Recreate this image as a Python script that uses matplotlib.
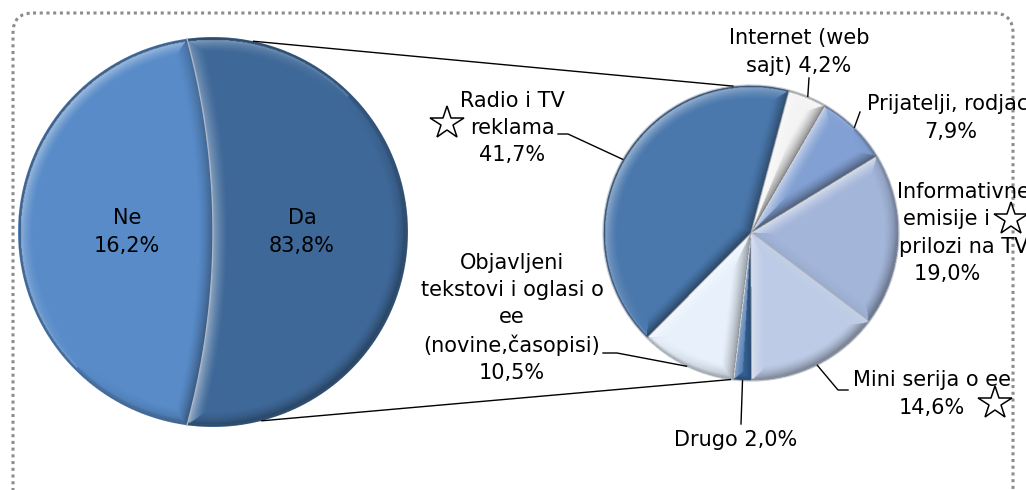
#!/usr/bin/env python3

import numpy as np
import matplotlib.pyplot as plt
from matplotlib.patches import Polygon, Circle, FancyBboxPatch

W, H = 1026, 490
DPI = 100

main_labels = ["Ne", "Da"]
main_values = [16.2, 83.8]
main_colors = ["#588bc8", "#3e6898"]

# breakdown of "Da", clockwise from the top
sub_labels = ["Internet (web\nsajt)", "Prijatelji, rodjaci",
              "Informativne\nemisije i\nprilozi na TV", "Mini serija o ee", "Drugo",
              "Objavljeni\ntekstovi i oglasi o\nee\n(novine,časopisi)", "Radio i TV\nreklama"]
sub_values = [4.2, 7.9, 19.0, 14.6, 2.0, 10.5, 41.7]
sub_colors = ["#f3f3f3", "#82a0d3", "#a3b5d9", "#bdcbe6", "#3b6ba6", "#e7f0fb", "#4a78ad"]
value_sep = [" ", "\n", "\n", "\n", " ", "\n", "\n"]

# layout in pixels (y down)
CX1, CY1, R1 = 213, 232, 195
CX2, CY2, R2 = 751, 233, 148
FS = 15
LS = 1.45
label_pos = [(799, 52, "center"), (867, 118, "left"), (897, 233, "left"), (853, 394, "left"),
             (736, 440, "center"), (512, 318, "center"), (512, 128, "center")]
elbows = [[(809, 78)], [(860, 112)], [], [(838, 390), (848, 390)],
          [(741, 424)], [(617, 353), (603, 353)], [(568, 134), (558, 134)]]
stars = [(447, 123), (1011, 219), (995, 403)]

plt.rcParams["font.family"] = ["DejaVu Sans"]

N = 500
g = np.linspace(-1, 1, N)
X, Y = np.meshgrid(g, g)
RR = np.hypot(X, Y)


def pct(v):
    return f"{v:.1f}%".replace(".", ",")


def pieAxes(fig, cx, cy, r):
    return fig.add_axes([(cx - r) / W, 1 - (cy + r) / H, 2 * r / W, 2 * r / H])


def finish(ax):
    ax.set_xlim(-1, 1)
    ax.set_ylim(-1, 1)
    ax.set_aspect("auto")
    ax.axis("off")


def rayCand(deg):
    # distance to a radial boundary and the direction towards it
    ux, uy = np.cos(np.radians(deg)), np.sin(np.radians(deg))
    proj = X * ux + Y * uy
    perp = -X * uy + Y * ux
    d = np.where(proj > 0, np.abs(perp), RR)
    s = -np.sign(perp)
    return d, s * -uy, s * ux


def bevel(ax, cands, b=0.08):
    # soft bevel lit from the top left, as in the original 3D style
    best = 1 - RR
    nx = X / np.maximum(RR, 1e-9)
    ny = Y / np.maximum(RR, 1e-9)
    for d, cx, cy in cands:
        m = d < best
        best = np.where(m, d, best)
        nx = np.where(m, cx, nx)
        ny = np.where(m, cy, ny)
    light = (-nx + ny) / np.sqrt(2)
    f = np.clip(1 - best / b, 0, 1) ** 1.5
    sh = light * f
    img = np.zeros((N, N, 4))
    up = sh > 0
    img[up, :3] = 1.0
    img[..., 3] = np.where(up, 0.55 * sh, -0.45 * sh)
    edge = np.clip(1 - (1 - RR) / 0.025, 0, 1)
    img[..., 3] = img[..., 3] * (1 - edge) + 0.35 * edge
    img[edge > 0.5, :3] = 0.1
    img[RR > 1, 3] = 0
    im = ax.imshow(img, extent=(-1, 1, -1, 1), origin="lower", interpolation="bilinear", zorder=4)
    im.set_clip_path(Circle((0, 0), 1, transform=ax.transData))


def onCircle(cx, cy, r, deg):
    a = np.radians(deg)
    return cx + r * np.cos(a), cy - r * np.sin(a)


fig = plt.figure(figsize=(W / DPI, H / DPI), dpi=DPI)

# ---- left pie (drawn with the curved split of the original) ----
ax1 = pieAxes(fig, CX1, CY1, R1)
bend = 3.76
xs = -1 / (2 * bend)
ys = np.sqrt(1 - xs ** 2)
a0 = np.degrees(np.arctan2(ys, xs))
phi0 = np.arcsin(ys / bend)
phi = np.linspace(-phi0, phi0, 60)
curve = np.column_stack([-bend + bend * np.cos(phi), bend * np.sin(phi)])
t_ne = np.radians(np.linspace(a0, 360 - a0, 120))
t_da = np.radians(np.linspace(-a0, a0, 120))
ne = np.vstack([np.column_stack([np.cos(t_ne), np.sin(t_ne)]), curve])
da = np.vstack([np.column_stack([np.cos(t_da), np.sin(t_da)]), curve[::-1]])
ax1.add_patch(Polygon(ne, closed=True, facecolor=main_colors[0], edgecolor="none"))
ax1.add_patch(Polygon(da, closed=True, facecolor=main_colors[1], edgecolor="none"))
rb = np.hypot(X + bend, Y)
s = np.where(rb < bend, 1.0, -1.0)
bevel(ax1, [(np.abs(rb - bend), s * (X + bend) / rb, s * Y / rb)])
ax1.plot(curve[:, 0], curve[:, 1], color="#aab6c6", lw=1, zorder=5)
finish(ax1)

# ---- right pie ----
ax2 = pieAxes(fig, CX2, CY2, R2)
wedges, _ = ax2.pie(sub_values, colors=sub_colors, startangle=75, counterclock=False, radius=1,
                    wedgeprops=dict(edgecolor="#c9ced6", linewidth=1.0))
bevel(ax2, [rayCand(w.theta1) for w in wedges], b=0.1)
finish(ax2)

# ---- overlay in pixels ----
ax0 = fig.add_axes([0, 0, 1, 1])
ax0.set_xlim(0, W)
ax0.set_ylim(H, 0)
ax0.axis("off")
ax0.patch.set_visible(False)

ax0.add_patch(FancyBboxPatch((13, 13), W - 26, 520, boxstyle="round,pad=0,rounding_size=20",
                             facecolor="none", edgecolor="#8c8c8c", lw=2.2,
                             linestyle=(0, (1, 1.2)), clip_on=False))

# connector lines between the two pies
for a1, a2 in [(78, 97), (-75.5, -98)]:
    p1 = onCircle(CX1, CY1, R1, a1)
    p2 = onCircle(CX2, CY2, R2, a2)
    ax0.plot([p1[0], p2[0]], [p1[1], p2[1]], color="black", lw=1)

# left pie labels
ax0.text(CX1 - 86, CY1, f"{main_labels[0]}\n{pct(main_values[0])}", ha="center", va="center",
         fontsize=FS, linespacing=LS)
ax0.text(CX1 + 89, CY1, f"{main_labels[1]}\n{pct(main_values[1])}", ha="center", va="center",
         fontsize=FS, linespacing=LS)

# right pie labels + leaders
for w, lab, v, sep, (lx, ly, ha), el in zip(wedges, sub_labels, sub_values, value_sep,
                                             label_pos, elbows):
    txt = f"{lab}{sep}{pct(v)}"
    if lab.startswith("Informativne"):
        # the original leaves room for the star after "emisije i"
        txt = txt.replace("emisije i\n", "emisije i     \n").replace("19,0%", "19,0%     ")
    ax0.text(lx, ly, txt, ha=ha, va="center", multialignment="center",
             fontsize=FS, linespacing=LS, clip_on=False)
    if el:
        mid = (w.theta1 + w.theta2) / 2
        pts = [onCircle(CX2, CY2, R2, mid)] + el
        ax0.plot([p[0] for p in pts], [p[1] for p in pts], color="black", lw=1)

for sx, sy in stars:
    ax0.plot(sx, sy, marker="*", ms=25, mfc="white", mec="black", mew=1.1)

fig.savefig("out.png", dpi=DPI)
